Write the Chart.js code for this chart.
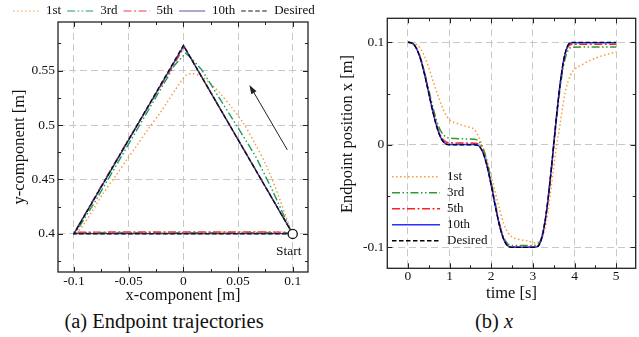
<!DOCTYPE html>
<html>
<head>
<meta charset="utf-8">
<script src="https://cdn.jsdelivr.net/npm/chart.js@4.4.1/dist/chart.umd.min.js"></script>
<style>
  body { margin: 0; background: #fff; width: 639px; height: 337px; position: relative; overflow: hidden; font-family: "Liberation Serif", serif; color: #111; }
  canvas { position: absolute; top: 0; }
  #left { left: 0; }
  #right { left: 330px; }
  .cap { position: absolute; top: 310px; font-size: 20.5px; white-space: nowrap; transform: translateX(-50%); }
</style>
</head>
<body>
<canvas id="left" width="330" height="310"></canvas>
<canvas id="right" width="309" height="310"></canvas>
<div class="cap" style="left:164px">(a) Endpoint trajectories</div>
<div class="cap" style="left:494px">(b) <i>x</i></div>
<script>
const seriesNames = ['1st', '3rd', '5th', '10th', 'Desired'];

// (a) endpoint path in the plane [m]
const pathX1st = [0.1, 0.096, 0.0884, 0.0763, 0.0655, 0.0549, 0.0436, 0.0336, 0.0245, 0.0165, 0.009, 0.003, -0.0025, -0.0076, -0.0145, -0.0213, -0.032, -0.042, -0.0518, -0.0625, -0.0732, -0.0883, -0.0955, -0.097, -0.05, 0, 0.05, 0.08, 0.0905];
const pathY1st = [0.4, 0.41, 0.4313, 0.4618, 0.483, 0.5017, 0.517, 0.5292, 0.5385, 0.5445, 0.5472, 0.5462, 0.5395, 0.532, 0.5215, 0.511, 0.4965, 0.482, 0.468, 0.4525, 0.4374, 0.4129, 0.403, 0.4015, 0.4013, 0.4013, 0.4016, 0.4019, 0.4018];
const pathX3rd = [0.1, 0.0942, 0.0815, 0.066, 0.0485, 0.0325, 0.017, 0.0075, 0.002, -0.008, -0.0225, -0.0515, -0.0805, -0.0985, -0.05, 0, 0.05, 0.0955];
const pathY3rd = [0.4, 0.412, 0.44, 0.4715, 0.5, 0.5255, 0.5505, 0.5615, 0.566, 0.555, 0.53, 0.48, 0.43, 0.4012, 0.4012, 0.4011, 0.4012, 0.4012];
const pathX5th = [0.1, 0.075, 0.05, 0.025, 0.001, -0.025, -0.051, -0.076, -0.0995, -0.05, 0, 0.05, 0.098];
const pathY5th = [0.4, 0.4435, 0.487, 0.5303, 0.5718, 0.5285, 0.4855, 0.4425, 0.4015, 0.4018, 0.4018, 0.4018, 0.4016];
const pathX10th = [0.1, 0.0003, -0.1, 0, 0.0995];
const pathY10th = [0.4, 0.5728, 0.4003, 0.4003, 0.4003];
const pathXDesired = [0.1, 0, -0.1, 0.1];
const pathYDesired = [0.4, 0.5732, 0.4, 0.4];
const startPoint = [0.1, 0.4];

// (b) endpoint x over time [s], [m]
const timeS = [0, 0.1, 0.2, 0.3, 0.4, 0.5, 0.6, 0.7, 0.8, 0.9, 1.0, 1.2, 1.4, 1.6, 1.7, 1.8, 1.9, 2.0, 2.1, 2.2, 2.3, 2.4, 2.5, 2.7, 2.9, 3.05, 3.15, 3.25, 3.35, 3.45, 3.55, 3.65, 3.75, 3.85, 3.95, 4.2, 4.5, 4.8, 5.0];
const posX1st = [0.1, 0.0998, 0.098, 0.094, 0.086, 0.0755, 0.0625, 0.0505, 0.039, 0.03, 0.0244, 0.0205, 0.0178, 0.0145, 0.0075, -0.003, -0.016, -0.031, -0.047, -0.063, -0.077, -0.0855, -0.09, -0.0925, -0.094, -0.0955, -0.0945, -0.0875, -0.069, -0.038, -0.006, 0.019, 0.046, 0.0625, 0.0712, 0.0785, 0.0845, 0.0885, 0.0905];
const posX3rd = [0.1, 0.0993, 0.0948, 0.085, 0.0705, 0.0535, 0.0365, 0.022, 0.0125, 0.008, 0.0065, 0.006, 0.0057, 0.0053, 0.0035, -0.003, -0.0165, -0.036, -0.0575, -0.077, -0.0905, -0.0968, -0.0982, -0.0983, -0.0983, -0.098, -0.096, -0.0835, -0.0575, -0.0215, 0.018, 0.054, 0.08, 0.0925, 0.0952, 0.0955, 0.0955, 0.0955, 0.0955];
const posX5th = [0.1, 0.0992, 0.0945, 0.0842, 0.069, 0.051, 0.033, 0.018, 0.0075, 0.003, 0.002, 0.0018, 0.0017, 0.0016, 0.0005, -0.0065, -0.02, -0.039, -0.06, -0.0785, -0.092, -0.0985, -0.0998, -0.0999, -0.0999, -0.0998, -0.0975, -0.0845, -0.0578, -0.0207, 0.0205, 0.0575, 0.084, 0.096, 0.098, 0.098, 0.098, 0.098, 0.098];
const posX10th = [0.1, 0.0991, 0.0942, 0.0838, 0.0684, 0.0501, 0.0318, 0.0164, 0.006, 0.0011, 0.0003, 0.0003, 0.0003, 0.0003, -0.001, -0.0075, -0.0209, -0.0396, -0.0602, -0.079, -0.0923, -0.0987, -0.0999, -0.0999, -0.0999, -0.0999, -0.0976, -0.0846, -0.0579, -0.0206, 0.0207, 0.058, 0.0846, 0.0975, 0.0996, 0.0996, 0.0996, 0.0996, 0.0996];
const posXDesired = [0.1, 0.0991, 0.0942, 0.0837, 0.0683, 0.05, 0.0317, 0.0163, 0.0058, 0.0009, 0, 0, 0, 0, -0.0012, -0.0076, -0.021, -0.0397, -0.0603, -0.079, -0.0924, -0.0988, -0.1, -0.1, -0.1, -0.1, -0.0977, -0.0847, -0.058, -0.0207, 0.0207, 0.058, 0.0847, 0.0977, 0.1, 0.1, 0.1, 0.1, 0.1];

// ticks
const xTicksA = [-0.1, -0.05, 0, 0.05, 0.1];
const xTickLabelsA = ['-0.1', '-0.05', '0', '0.05', '0.1'];
const yTicksA = [0.4, 0.45, 0.5, 0.55];
const yTickLabelsA = ['0.4', '0.45', '0.5', '0.55'];
const xMinorA = [-0.075, -0.025, 0.025, 0.075];
const yMinorA = [0.375, 0.425, 0.475, 0.525, 0.575];
const xTicksB = [0, 1, 2, 3, 4, 5];
const xTickLabelsB = ['0', '1', '2', '3', '4', '5'];
const yTicksB = [-0.1, 0, 0.1];
const yTickLabelsB = ['-0.1', '0', '0.1'];
const xMinorB = [0.5, 1.5, 2.5, 3.5, 4.5];
const yMinorB = [-0.05, 0.05];

const SERIF = '"Liberation Serif", "Times New Roman", serif';

const dashes = [[1.5, 2.5], [8, 2.5, 1.5, 2.5, 1.5, 2.5], [8, 2.5, 2, 2.5], [], [4.5, 2.5]];
const colorsA = ['#f39a3c', '#1a9e5a', '#e83a3f', '#35358f', '#111111'];
const colorsB = ['#ff9933', '#2f9a2f', '#ff2020', '#2e2eff', '#000000'];

function pairs(xs, ys) {
    return xs.map((v, i) => ({ x: v, y: ys[i] }));
}

function axis(min, max, ticks, labels, fit, title, pad) {
    return {
        type: 'linear',
        min: min,
        max: max,
        afterBuildTicks: s => { s.ticks = ticks.map(v => ({ value: v })); },
        afterFit: fit,
        ticks: {
            callback: (v, i) => labels[i],
            font: { family: SERIF, size: 13.5 },
            color: '#111',
            padding: pad,
            maxRotation: 0,
            autoSkip: false
        },
        grid: { color: '#c8c8c8', lineWidth: 1, drawTicks: false },
        border: { display: false, dash: [7, 4] },
        title: title
    };
}

// frame, inside ticks, legend and notes
const framePlugin = {
    id: 'frame',
    afterDatasetsDraw(chart, args, o) {
        const { ctx, chartArea: a, scales: { x, y } } = chart;
        ctx.save();
        ctx.strokeStyle = '#222';
        ctx.lineWidth = 1;
        ctx.setLineDash([]);
        ctx.beginPath();
        const tickX = (vals, len) => vals.forEach(v => {
            const p = Math.round(x.getPixelForValue(v)) + 0.5;
            ctx.moveTo(p, a.bottom); ctx.lineTo(p, a.bottom - len);
            ctx.moveTo(p, a.top); ctx.lineTo(p, a.top + len);
        });
        const tickY = (vals, len) => vals.forEach(v => {
            const p = Math.round(y.getPixelForValue(v)) + 0.5;
            ctx.moveTo(a.left, p); ctx.lineTo(a.left + len, p);
            ctx.moveTo(a.right, p); ctx.lineTo(a.right - len, p);
        });
        tickX(o.xMajor, 5); tickX(o.xMinor, 3);
        tickY(o.yMajor, 5); tickY(o.yMinor, 3);
        ctx.stroke();
        ctx.lineWidth = 1.3;
        ctx.strokeRect(a.left, a.top, a.right - a.left, a.bottom - a.top);

        if (o.arrow) {
            const x0 = x.getPixelForValue(o.arrow[0]), y0 = y.getPixelForValue(o.arrow[1]);
            const x1 = x.getPixelForValue(o.arrow[2]), y1 = y.getPixelForValue(o.arrow[3]);
            const ang = Math.atan2(y1 - y0, x1 - x0);
            ctx.lineWidth = 1;
            ctx.beginPath();
            ctx.moveTo(x0, y0);
            ctx.lineTo(x1 - 6 * Math.cos(ang), y1 - 6 * Math.sin(ang));
            ctx.stroke();
            ctx.fillStyle = '#222';
            ctx.beginPath();
            ctx.moveTo(x1, y1);
            ctx.lineTo(x1 - 9 * Math.cos(ang) + 3 * Math.sin(ang), y1 - 9 * Math.sin(ang) - 3 * Math.cos(ang));
            ctx.lineTo(x1 - 9 * Math.cos(ang) - 3 * Math.sin(ang), y1 - 9 * Math.sin(ang) + 3 * Math.cos(ang));
            ctx.closePath();
            ctx.fill();
        }
        if (o.note) {
            ctx.fillStyle = '#111';
            ctx.font = '13.5px ' + SERIF;
            ctx.textAlign = 'center';
            ctx.textBaseline = 'middle';
            ctx.fillText(o.note.text, x.getPixelForValue(o.note.at[0]) + o.note.dx, y.getPixelForValue(o.note.at[1]) + o.note.dy);
        }
        if (o.yTitle) {
            ctx.fillStyle = '#111';
            ctx.font = '16.5px ' + SERIF;
            ctx.textAlign = 'center';
            ctx.textBaseline = 'middle';
            ctx.translate(o.yTitle.x, o.yTitle.y);
            ctx.rotate(-Math.PI / 2);
            ctx.fillText(o.yTitle.text, 0, 0);
        }
        ctx.restore();
    },
    afterDraw(chart, args, o) {
        const L = o.legend;
        if (!L) return;
        const ctx = chart.ctx;
        ctx.save();
        ctx.font = '13px ' + SERIF;
        ctx.textBaseline = 'middle';
        ctx.textAlign = 'left';
        let px = L.x, py = L.y;
        seriesNames.forEach((name, i) => {
            ctx.save();
            ctx.globalAlpha = L.alpha;
            ctx.strokeStyle = L.colors[i];
            ctx.lineWidth = L.width;
            ctx.setLineDash(dashes[i]);
            ctx.beginPath();
            ctx.moveTo(px, py);
            ctx.lineTo(px + L.len, py);
            ctx.stroke();
            ctx.restore();
            ctx.fillStyle = '#111';
            ctx.fillText(name, px + L.len + L.gap, py);
            if (L.row) {
                px += L.len + L.gap + ctx.measureText(name).width + L.after;
            } else {
                py += L.step;
            }
        });
        ctx.restore();
    }
};

function lineSet(i, points, colors, width, tension) {
    return {
        label: seriesNames[i],
        data: points,
        showLine: true,
        borderColor: colors[i],
        borderWidth: width,
        borderDash: dashes[i],
        pointRadius: 0,
        fill: false,
        tension: tension,
        order: 4 - i
    };
}

new Chart(document.getElementById('left').getContext('2d'), {
    type: 'scatter',
    data: {
        datasets: [
            lineSet(0, pairs(pathX1st, pathY1st), colorsA, 1.4, 0.3),
            lineSet(1, pairs(pathX3rd, pathY3rd), colorsA, 1.4, 0),
            lineSet(2, pairs(pathX5th, pathY5th), colorsA, 1.4, 0),
            lineSet(3, pairs(pathX10th, pathY10th), colorsA, 1.4, 0),
            lineSet(4, pairs(pathXDesired, pathYDesired), colorsA, 1.3, 0),
            {
                label: 'Start',
                data: [{ x: startPoint[0], y: startPoint[1] }],
                pointRadius: 4.6,
                pointBackgroundColor: '#fff',
                pointBorderColor: '#111',
                pointBorderWidth: 1.3,
                showLine: false,
                order: -1
            }
        ]
    },
    options: {
        responsive: false,
        animation: false,
        layout: { padding: { top: 22, right: 22, left: 0, bottom: 0 } },
        plugins: {
            legend: { display: false },
            tooltip: { enabled: false },
            frame: {
                xMajor: xTicksA, xMinor: xMinorA, yMajor: yTicksA, yMinor: yMinorA,
                arrow: [0.0951, 0.4772, 0.0604, 0.5369],
                note: { text: 'Start', at: startPoint, dx: -4, dy: 17.5 },
                legend: { x: 13, y: 11, len: 26, gap: 7, after: 6, row: true, colors: colorsA, width: 1.3, alpha: 0.65 }
            }
        },
        scales: {
            x: axis(-0.1146, 0.114, xTicksA, xTickLabelsA, s => { s.height = 38; },
                { display: true, text: 'x-component [m]', font: { family: SERIF, size: 16.5 }, color: '#111', padding: { top: 0, bottom: 4 } }, 1),
            y: axis(0.365, 0.5947, yTicksA, yTickLabelsA, s => { s.width = 58; },
                { display: true, text: 'y-component [m]', font: { family: SERIF, size: 16.5 }, color: '#111', padding: { top: 10, bottom: 0 } }, 3)
        }
    },
    plugins: [framePlugin]
});

new Chart(document.getElementById('right').getContext('2d'), {
    type: 'scatter',
    data: {
        datasets: [
            lineSet(0, pairs(timeS, posX1st), colorsB, 1.5, 0),
            lineSet(1, pairs(timeS, posX3rd), colorsB, 1.5, 0),
            lineSet(2, pairs(timeS, posX5th), colorsB, 1.5, 0),
            lineSet(3, pairs(timeS, posX10th), colorsB, 1.5, 0),
            lineSet(4, pairs(timeS, posXDesired), colorsB, 1.3, 0)
        ].map(d => Object.assign(d, { cubicInterpolationMode: 'monotone' }))
    },
    options: {
        responsive: false,
        animation: false,
        layout: { padding: { top: 18.3, right: 3.3, left: 0, bottom: 0 } },
        plugins: {
            legend: { display: false },
            tooltip: { enabled: false },
            frame: {
                xMajor: xTicksB, xMinor: xMinorB, yMajor: yTicksB, yMinor: yMinorB,
                yTitle: { text: 'Endpoint position x [m]', x: 18, y: 134 },
                legend: { x: 62, y: 176.7, len: 48, gap: 7, step: 16, row: false, colors: colorsB, width: 1.5, alpha: 1 }
            }
        },
        scales: {
            x: axis(-0.497, 5.47, xTicksB, xTickLabelsB, s => { s.height = 41.7; },
                { display: true, text: 'time [s]', font: { family: SERIF, size: 16.5 }, color: '#111', padding: { top: 0, bottom: 6 } }, 0),
            y: axis(-0.1205, 0.1234, yTicksB, yTickLabelsB, s => { s.width = 57.3; }, { display: false }, 3)
        }
    },
    plugins: [framePlugin]
});
</script>
</body>
</html>
